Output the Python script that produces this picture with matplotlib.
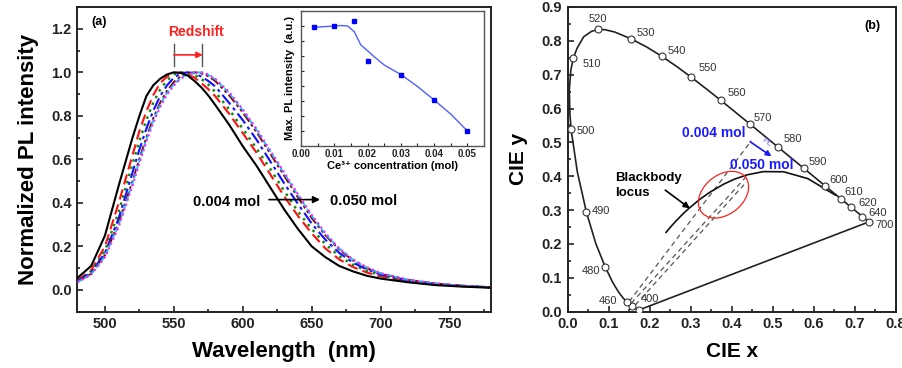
"""
Normalized PL spectra of Ce3+ doped phosphor (a) and CIE 1931 diagram (b)
"""

### Import packages
import matplotlib
matplotlib.use('Agg')
import matplotlib.pyplot as plt
from matplotlib.patches import Ellipse
from matplotlib.ticker import MultipleLocator, NullFormatter

### Plotting defaults
plt.rc('font', family=['Liberation Sans', 'DejaVu Sans'], weight='bold')
plt.rc('axes', labelweight='bold')

###############################################################################
### Data (a): normalized PL spectra
wavelength = [480, 490, 500, 510, 520, 525, 530, 535, 540, 545, 550, 555, 560, 565,
              570, 575, 580, 590, 600, 610, 620, 630, 640, 650, 660, 670, 680, 690,
              700, 720, 740, 760, 780]
pl_004 = [0.055, 0.11, 0.25, 0.48, 0.70, 0.80, 0.89, 0.94, 0.97, 0.99, 1.00, 0.997, 0.985, 0.96,
          0.93, 0.893, 0.85, 0.76, 0.66, 0.57, 0.47, 0.37, 0.28, 0.20, 0.15, 0.11, 0.085, 0.065,
          0.052, 0.035, 0.022, 0.015, 0.010]
pl_010 = [0.045, 0.09, 0.20, 0.40, 0.62, 0.73, 0.82, 0.895, 0.95, 0.98, 0.995, 1.00, 0.99, 0.975,
          0.95, 0.922, 0.89, 0.81, 0.72, 0.63, 0.53, 0.43, 0.34, 0.26, 0.19, 0.14, 0.105, 0.08,
          0.062, 0.040, 0.026, 0.017, 0.011]
pl_016 = [0.042, 0.085, 0.18, 0.36, 0.58, 0.685, 0.78, 0.86, 0.92, 0.963, 0.99, 1.00, 0.995, 0.987,
          0.97, 0.943, 0.91, 0.83, 0.74, 0.65, 0.555, 0.455, 0.36, 0.28, 0.21, 0.155, 0.115, 0.088,
          0.067, 0.042, 0.027, 0.018, 0.012]
pl_020 = [0.040, 0.08, 0.17, 0.33, 0.54, 0.645, 0.74, 0.823, 0.89, 0.94, 0.975, 0.995, 1.00, 0.995,
          0.98, 0.96, 0.935, 0.86, 0.78, 0.69, 0.59, 0.49, 0.395, 0.305, 0.23, 0.17, 0.125, 0.094,
          0.071, 0.044, 0.028, 0.018, 0.012]
pl_030 = [0.037, 0.075, 0.16, 0.31, 0.50, 0.603, 0.70, 0.788, 0.86, 0.915, 0.955, 0.982, 0.995, 1.00,
          0.995, 0.982, 0.96, 0.895, 0.815, 0.725, 0.625, 0.525, 0.425, 0.33, 0.25, 0.185, 0.135, 0.10,
          0.075, 0.046, 0.029, 0.019, 0.012]
pl_040 = [0.036, 0.072, 0.155, 0.30, 0.49, 0.593, 0.69, 0.778, 0.85, 0.905, 0.945, 0.975, 0.99, 0.998,
          1.00, 0.988, 0.968, 0.905, 0.825, 0.735, 0.635, 0.535, 0.435, 0.34, 0.255, 0.19, 0.138, 0.102,
          0.076, 0.046, 0.029, 0.019, 0.012]
pl_050 = [0.035, 0.07, 0.15, 0.29, 0.48, 0.583, 0.68, 0.768, 0.84, 0.897, 0.94, 0.97, 0.99, 0.998,
          1.00, 0.99, 0.97, 0.91, 0.83, 0.74, 0.64, 0.54, 0.44, 0.345, 0.26, 0.19, 0.14, 0.104,
          0.077, 0.047, 0.030, 0.019, 0.012]
spectra = [pl_004, pl_010, pl_016, pl_020, pl_030, pl_040, pl_050]

### Inset: max PL intensity vs Ce3+ concentration
conc = [0.004, 0.010, 0.016, 0.020, 0.030, 0.040, 0.050]
max_pl = [7.89, 7.96, 8.29, 5.67, 4.73, 3.07, 1.01]
fit_conc = [0.004, 0.008, 0.012, 0.014, 0.016, 0.018, 0.020, 0.022, 0.025,
            0.030, 0.035, 0.040, 0.045, 0.050]
fit_pl = [7.89, 7.95, 8.01, 7.98, 7.60, 6.71, 6.33, 5.93, 5.38,
          4.75, 3.95, 3.05, 2.11, 0.98]

### Data (b): CIE 1931 spectral locus
locus_wl = [400, 410, 420, 430, 440, 450, 460, 465, 470, 475, 480, 485, 490, 495,
            500, 502, 505, 508, 510, 512, 515, 518, 520, 522, 525, 530, 535, 540, 545,
            550, 555, 560, 565, 570, 575, 580, 585, 590, 595, 600, 605, 610, 620, 630,
            640, 650, 660, 680, 700]
locus_x = [0.1733, 0.1726, 0.1714, 0.1689, 0.1644, 0.1566, 0.1440, 0.1355, 0.1241,
           0.1096, 0.0913, 0.0687, 0.0454, 0.0235, 0.0082, 0.0053, 0.0039, 0.0077,
           0.0139, 0.0228, 0.0389, 0.0580, 0.0743, 0.0906, 0.1142, 0.1547, 0.1929,
           0.2296, 0.2658, 0.3016, 0.3373, 0.3731, 0.4087, 0.4441, 0.4788, 0.5125,
           0.5448, 0.5752, 0.6029, 0.6270, 0.6482, 0.6658, 0.6915, 0.7079, 0.7190,
           0.7260, 0.7300, 0.7334, 0.7347]
locus_y = [0.0048, 0.0048, 0.0051, 0.0069, 0.0109, 0.0177, 0.0297, 0.0399, 0.0578,
           0.0868, 0.1327, 0.2007, 0.2950, 0.4127, 0.5384, 0.5853, 0.6548, 0.7140,
           0.7502, 0.7780, 0.8120, 0.8280, 0.8338, 0.8330, 0.8262, 0.8059, 0.7816,
           0.7543, 0.7243, 0.6923, 0.6589, 0.6245, 0.5896, 0.5547, 0.5202, 0.4866,
           0.4544, 0.4242, 0.3965, 0.3725, 0.3514, 0.3340, 0.3083, 0.2920, 0.2809,
           0.2740, 0.2700, 0.2666, 0.2653]
marked_wl = [400, 450, 460, 480, 490, 500, 510, 520, 530, 540, 550, 560, 570,
             580, 590, 600, 610, 620, 640, 700]
labelled_wl = [400, 460, 480, 490, 500, 510, 520, 530, 540, 550, 560, 570,
               580, 590, 600, 610, 620, 640, 700]

### Blackbody (Planckian) locus
planck_x = [0.2399, 0.2523, 0.2637, 0.2807, 0.2952, 0.3221, 0.3451, 0.3805,
            0.4053, 0.4369, 0.4770, 0.5267, 0.5857, 0.6528]
planck_y = [0.2342, 0.2522, 0.2674, 0.2884, 0.3048, 0.3318, 0.3516, 0.3768,
            0.3907, 0.4041, 0.4137, 0.4133, 0.3931, 0.3444]

### Blue chip -> phosphor tie lines
tie_x0 = [0.150, 0.155, 0.165]
tie_y0 = [0.030, 0.025, 0.020]
tie_x1 = [0.448, 0.440, 0.430]
tie_y1 = [0.505, 0.405, 0.375]

###############################################################################
### Plot Figure
fig = plt.figure(figsize=(9.03, 3.68), dpi=100)

def style_axes(ax, size=10.5):
    for loc in ['top', 'bottom', 'left', 'right']:
        ax.spines[loc].set_linewidth(1.4)
        ax.spines[loc].set_color('#222222')
    ax.tick_params(which='both', direction='in', top=False, right=False,
                   width=1.2, labelsize=size, pad=4, colors='#222222')
    ax.tick_params(which='major', length=4.5)
    ax.tick_params(which='minor', length=2.5)

def bold_ticks(ax):
    plt.setp(ax.get_xticklabels(), fontweight='bold')
    plt.setp(ax.get_yticklabels(), fontweight='bold')

### (a) PL spectra
ax = fig.add_axes([0.0857, 0.153, 0.458, 0.828])
style_axes(ax)

colors = ['black', '#ff1010', '#108a10', '#1010ff', '#8b0000', '#00c8ff', '#ff20ff']
styles = ['-', (0, (5, 2.5)), (0, (1, 2)), (0, (6, 2, 1.5, 2)),
          (0, (5, 1.5, 1.5, 1.5, 1.5, 1.5)), (0, (3, 1.5)), (0, (1, 1.5))]
widths = [1.5, 1.5, 1.8, 1.5, 1.4, 1.3, 1.5]
for i in range(len(spectra)):
    ax.plot(wavelength, spectra[i], color=colors[i], linestyle=styles[i],
            linewidth=widths[i], zorder=3 if i == 0 else 2 + 0.1*i)

ax.set_xlim(480, 780)
ax.set_ylim(-0.1, 1.3)
ax.xaxis.set_major_locator(MultipleLocator(50))
ax.xaxis.set_minor_locator(MultipleLocator(25))
ax.set_yticks([0.0, 0.2, 0.4, 0.6, 0.8, 1.0, 1.2])
ax.yaxis.set_minor_locator(MultipleLocator(0.1))
bold_ticks(ax)
ax.set_xlabel('Wavelength  (nm)', fontsize=16, labelpad=7)
ax.set_ylabel('Normalized PL intensity', fontsize=16, labelpad=9)

ax.text(496, 1.23, '(a)', fontsize=9, ha='center', va='center')
ax.text(566, 1.185, 'Redshift', fontsize=10, color='#ff2020', ha='center', va='center')
ax.plot([550, 550], [1.03, 1.13], color='#555555', linewidth=1.0)
ax.plot([570.5, 570.5], [1.03, 1.13], color='#555555', linewidth=1.0)
ax.annotate('', xy=(571, 1.08), xytext=(550, 1.08),
            arrowprops=dict(arrowstyle='-|>', color='#ff2020', lw=1.2,
                            mutation_scale=9, shrinkA=0, shrinkB=0))
ax.text(588, 0.405, '0.004 mol', fontsize=10.5, ha='center', va='center')
ax.text(663, 0.41, '0.050 mol', fontsize=10.5, ha='left', va='center')
ax.annotate('', xy=(656, 0.415), xytext=(619, 0.415),
            arrowprops=dict(arrowstyle='-|>', color='black', lw=1.2,
                            mutation_scale=10, shrinkA=0, shrinkB=0))

### Inset
axi = fig.add_axes([0.3333, 0.604, 0.2027, 0.367])
style_axes(axi, size=7)
for loc in ['top', 'bottom', 'left', 'right']:
    axi.spines[loc].set_linewidth(1.0)
    axi.spines[loc].set_color('#555555')
axi.tick_params(which='both', length=2.5, width=0.8, pad=2)
axi.plot(fit_conc, fit_pl, color='#5060ff', linewidth=1.0)
axi.plot(conc, max_pl, linestyle='none', marker='s', markersize=3.5,
         color='#0000ff')
axi.set_xlim(0, 0.055)
axi.set_ylim(0, 9)
axi.xaxis.set_major_locator(MultipleLocator(0.01))
axi.xaxis.set_minor_locator(MultipleLocator(0.005))
axi.xaxis.set_major_formatter(plt.FormatStrFormatter('%.2f'))
axi.yaxis.set_major_locator(MultipleLocator(1))
axi.yaxis.set_major_formatter(NullFormatter())
bold_ticks(axi)
axi.set_xlabel('Ce³⁺ concentration (mol)', fontsize=8, labelpad=2)
axi.set_ylabel('Max. PL intensity  (a.u.)', fontsize=8, labelpad=2)

### (b) CIE diagram
bx = fig.add_axes([0.6287, 0.153, 0.3632, 0.828])
style_axes(bx)
bx.plot(locus_x, locus_y, color='#222222', linewidth=1.2, zorder=2)
bx.plot([locus_x[0], locus_x[-1]], [locus_y[0], locus_y[-1]], color='#222222',
        linewidth=1.2, zorder=2)
mx = [locus_x[locus_wl.index(w)] for w in marked_wl]
my = [locus_y[locus_wl.index(w)] for w in marked_wl]
bx.plot(mx, my, linestyle='none', marker='o', markersize=5, markerfacecolor='white',
        markeredgecolor='#333333', markeredgewidth=0.8, zorder=4)

label_pos = [(0.201, 0.037), (0.099, 0.032), (0.057, 0.121), (0.081, 0.297),
             (0.045, 0.533), (0.059, 0.733), (0.073, 0.864), (0.191, 0.824),
             (0.267, 0.769), (0.341, 0.719), (0.412, 0.646), (0.477, 0.572),
             (0.550, 0.509), (0.609, 0.443), (0.662, 0.388), (0.697, 0.353),
             (0.731, 0.320), (0.757, 0.291), (0.773, 0.257)]
for w, (tx, ty) in zip(labelled_wl, label_pos):
    bx.text(tx, ty, str(w), fontsize=8, fontweight='normal', color='#333333',
            ha='center', va='center', zorder=5)

bx.plot(planck_x, planck_y, color='#111111', linewidth=1.2, zorder=3)
for i in range(len(tie_x0)):
    bx.plot([tie_x0[i], tie_x1[i]], [tie_y0[i], tie_y1[i]], color='#555555',
            linewidth=0.9, linestyle=(0, (4, 3)), zorder=2)

bx.add_patch(Ellipse((0.475, 0.384), 0.177, 0.125, angle=45, transform=bx.transAxes,
                     fill=False, edgecolor='#ff2020', linewidth=0.9, zorder=4))

bx.text(0.116, 0.372, 'Blackbody\nlocus', fontsize=9.5, ha='left', va='center',
        linespacing=1.35)
bx.annotate('', xy=(0.298, 0.305), xytext=(0.238, 0.359),
            arrowprops=dict(arrowstyle='-|>', color='black', lw=1.2,
                            mutation_scale=9, shrinkA=0, shrinkB=0))
bx.text(0.355, 0.528, '0.004 mol', fontsize=10, color='#1a1aff', ha='center', va='center')
bx.text(0.473, 0.433, '0.050 mol', fontsize=10, color='#1a1aff', ha='center', va='center')
bx.annotate('', xy=(0.497, 0.459), xytext=(0.445, 0.502),
            arrowprops=dict(arrowstyle='-|>', color='#1a1aff', lw=1.2,
                            mutation_scale=8, shrinkA=0, shrinkB=0))
bx.text(0.485, 0.498, 'PL', fontsize=6, color='#6f6fff', rotation=-35,
        ha='center', va='center', fontweight='normal')
bx.text(0.743, 0.843, '(b)', fontsize=9, ha='center', va='center')

bx.set_xlim(0, 0.8)
bx.set_ylim(0, 0.9)
bx.xaxis.set_major_locator(MultipleLocator(0.1))
bx.xaxis.set_minor_locator(MultipleLocator(0.05))
bx.yaxis.set_major_locator(MultipleLocator(0.1))
bx.yaxis.set_minor_locator(MultipleLocator(0.05))
bx.xaxis.set_major_formatter(plt.FormatStrFormatter('%.1f'))
bx.yaxis.set_major_formatter(plt.FormatStrFormatter('%.1f'))
bold_ticks(bx)
bx.set_xlabel('CIE x', fontsize=15, labelpad=8)
bx.set_ylabel('CIE y', fontsize=15, labelpad=10)

plt.savefig('out.png', dpi=100)
